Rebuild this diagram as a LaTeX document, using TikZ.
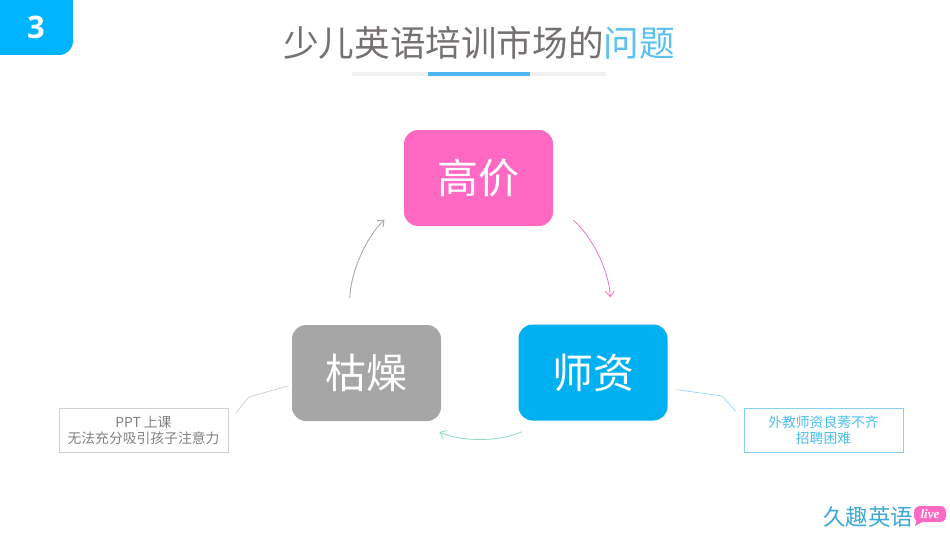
\documentclass[tikz,border=0pt]{standalone}
\usepackage{fontspec}
\setmainfont{Noto Sans CJK SC}
\newfontfamily\numfont{Open Sans}
\newfontfamily\livefont{Liberation Serif}
\usepackage{tikz}
\usetikzlibrary{arrows.meta,positioning,shapes.geometric}
\definecolor{tabblue}{HTML}{00B4FF}
\definecolor{titlegray}{HTML}{767171}
\definecolor{titleblue}{HTML}{5CC0F0}
\definecolor{rulegray}{HTML}{F0F0F0}
\definecolor{ruleblue}{HTML}{4DB5F0}
\definecolor{hotpink}{HTML}{FF69C4}
\definecolor{teacherblue}{HTML}{00B0F0}
\definecolor{dullgray}{HTML}{A6A6A6}
\definecolor{arcpink}{HTML}{E87CCB}
\definecolor{arcgreen}{HTML}{93D8C4}
\definecolor{logoblue}{HTML}{3FA9D6}
\tikzset{%
  >={Straight Barb[length=5.5pt,width=9pt]},
  block/.style={rectangle,rounded corners=14pt,minimum width=149pt,minimum height=96pt,
    inner sep=0pt,text=white,font=\fontsize{41}{41}\selectfont},
  note/.style={draw,rectangle,minimum width=169pt,minimum height=44pt,inner sep=0pt,
    align=center,font=\fontsize{13.8}{16}\selectfont},
  arc/.style={draw,line width=.85pt,->},
  leader/.style={draw,line width=.6pt}
}
\begin{document}
\begin{tikzpicture}[x=1pt,y=-1pt]
	\useasboundingbox (0,0) rectangle (950,535);
	% tab and heading
	\fill[tabblue] (0,0) -- (73,0) -- (73,41) .. controls (73,49) and (67,55) .. (59,55) -- (0,55) -- cycle;
	\node[text=white,inner sep=0pt,font=\numfont\bfseries\fontsize{31}{31}\selectfont] (tabnum) at (36,27) {3};
	\node[inner sep=0pt,text=titlegray,font=\fontsize{35.6}{36}\selectfont] (title) at (479,43)
		{少儿英语培训市场的\textcolor{titleblue}{问题}};
	\fill[rulegray] (352,72) rectangle (606,76);
	\fill[ruleblue] (428,72) rectangle (530,76);
	% the three blocks
	\node[block,fill=hotpink] (gaojia) at (478.5,178) {高价};
	\node[block,fill=teacherblue,on grid,below right=194.5pt and 114.5pt of gaojia] (shizi) {师资};
	\node[block,fill=dullgray,on grid,below left=195pt and 112pt of gaojia] (kuzao) {枯燥};
	% arcs
	\draw[arc,arcpink,shorten <=27pt,shorten >=27pt] (gaojia.-18) to[bend left=23] (shizi.69);
	\draw[arc,arcgreen,shorten <=27pt,shorten >=27pt] (shizi.226.5) to[bend left=24] (kuzao.315);
	\draw[arc,dullgray,shorten <=27pt,shorten >=27pt] (kuzao.110) to[bend left=22] (gaojia.197);
	% notes
	\node[note,draw=black!18,text=black!50] (ppt) at (143.5,430) {PPT 上课\\无法充分吸引孩子注意力};
	\node[note,draw=titleblue!75,minimum width=159pt,text=titleblue!80!teacherblue] (waijiao) at (823.5,430)
		{外教师资良莠不齐\\招聘困难};
	\coordinate (pptbend) at (249,397);
	\coordinate (waibend) at (722,396);
	\draw[leader,black!22,shorten <=3pt,shorten >=13pt] (kuzao.189) -- (pptbend) -- (ppt.5);
	\draw[leader,titleblue!70,shorten <=9pt,shorten >=12pt] (shizi.-12) -- (waibend) -- (waijiao.173);
	% logo
	\node[inner sep=0pt,text=logoblue,font=\fontsize{22.5}{23}\selectfont] (logo) at (868,517) {久趣英语};
	\fill[hotpink,rounded corners=6pt] (914,506) rectangle (946,522);
	\fill[hotpink] (917,518) -- (915,526) -- (924,521) -- cycle;
	\node[inner sep=0pt,text=white,font=\livefont\itshape\bfseries\fontsize{13}{13}\selectfont] (live) at (930,514) {live};
\end{tikzpicture}
\end{document}
